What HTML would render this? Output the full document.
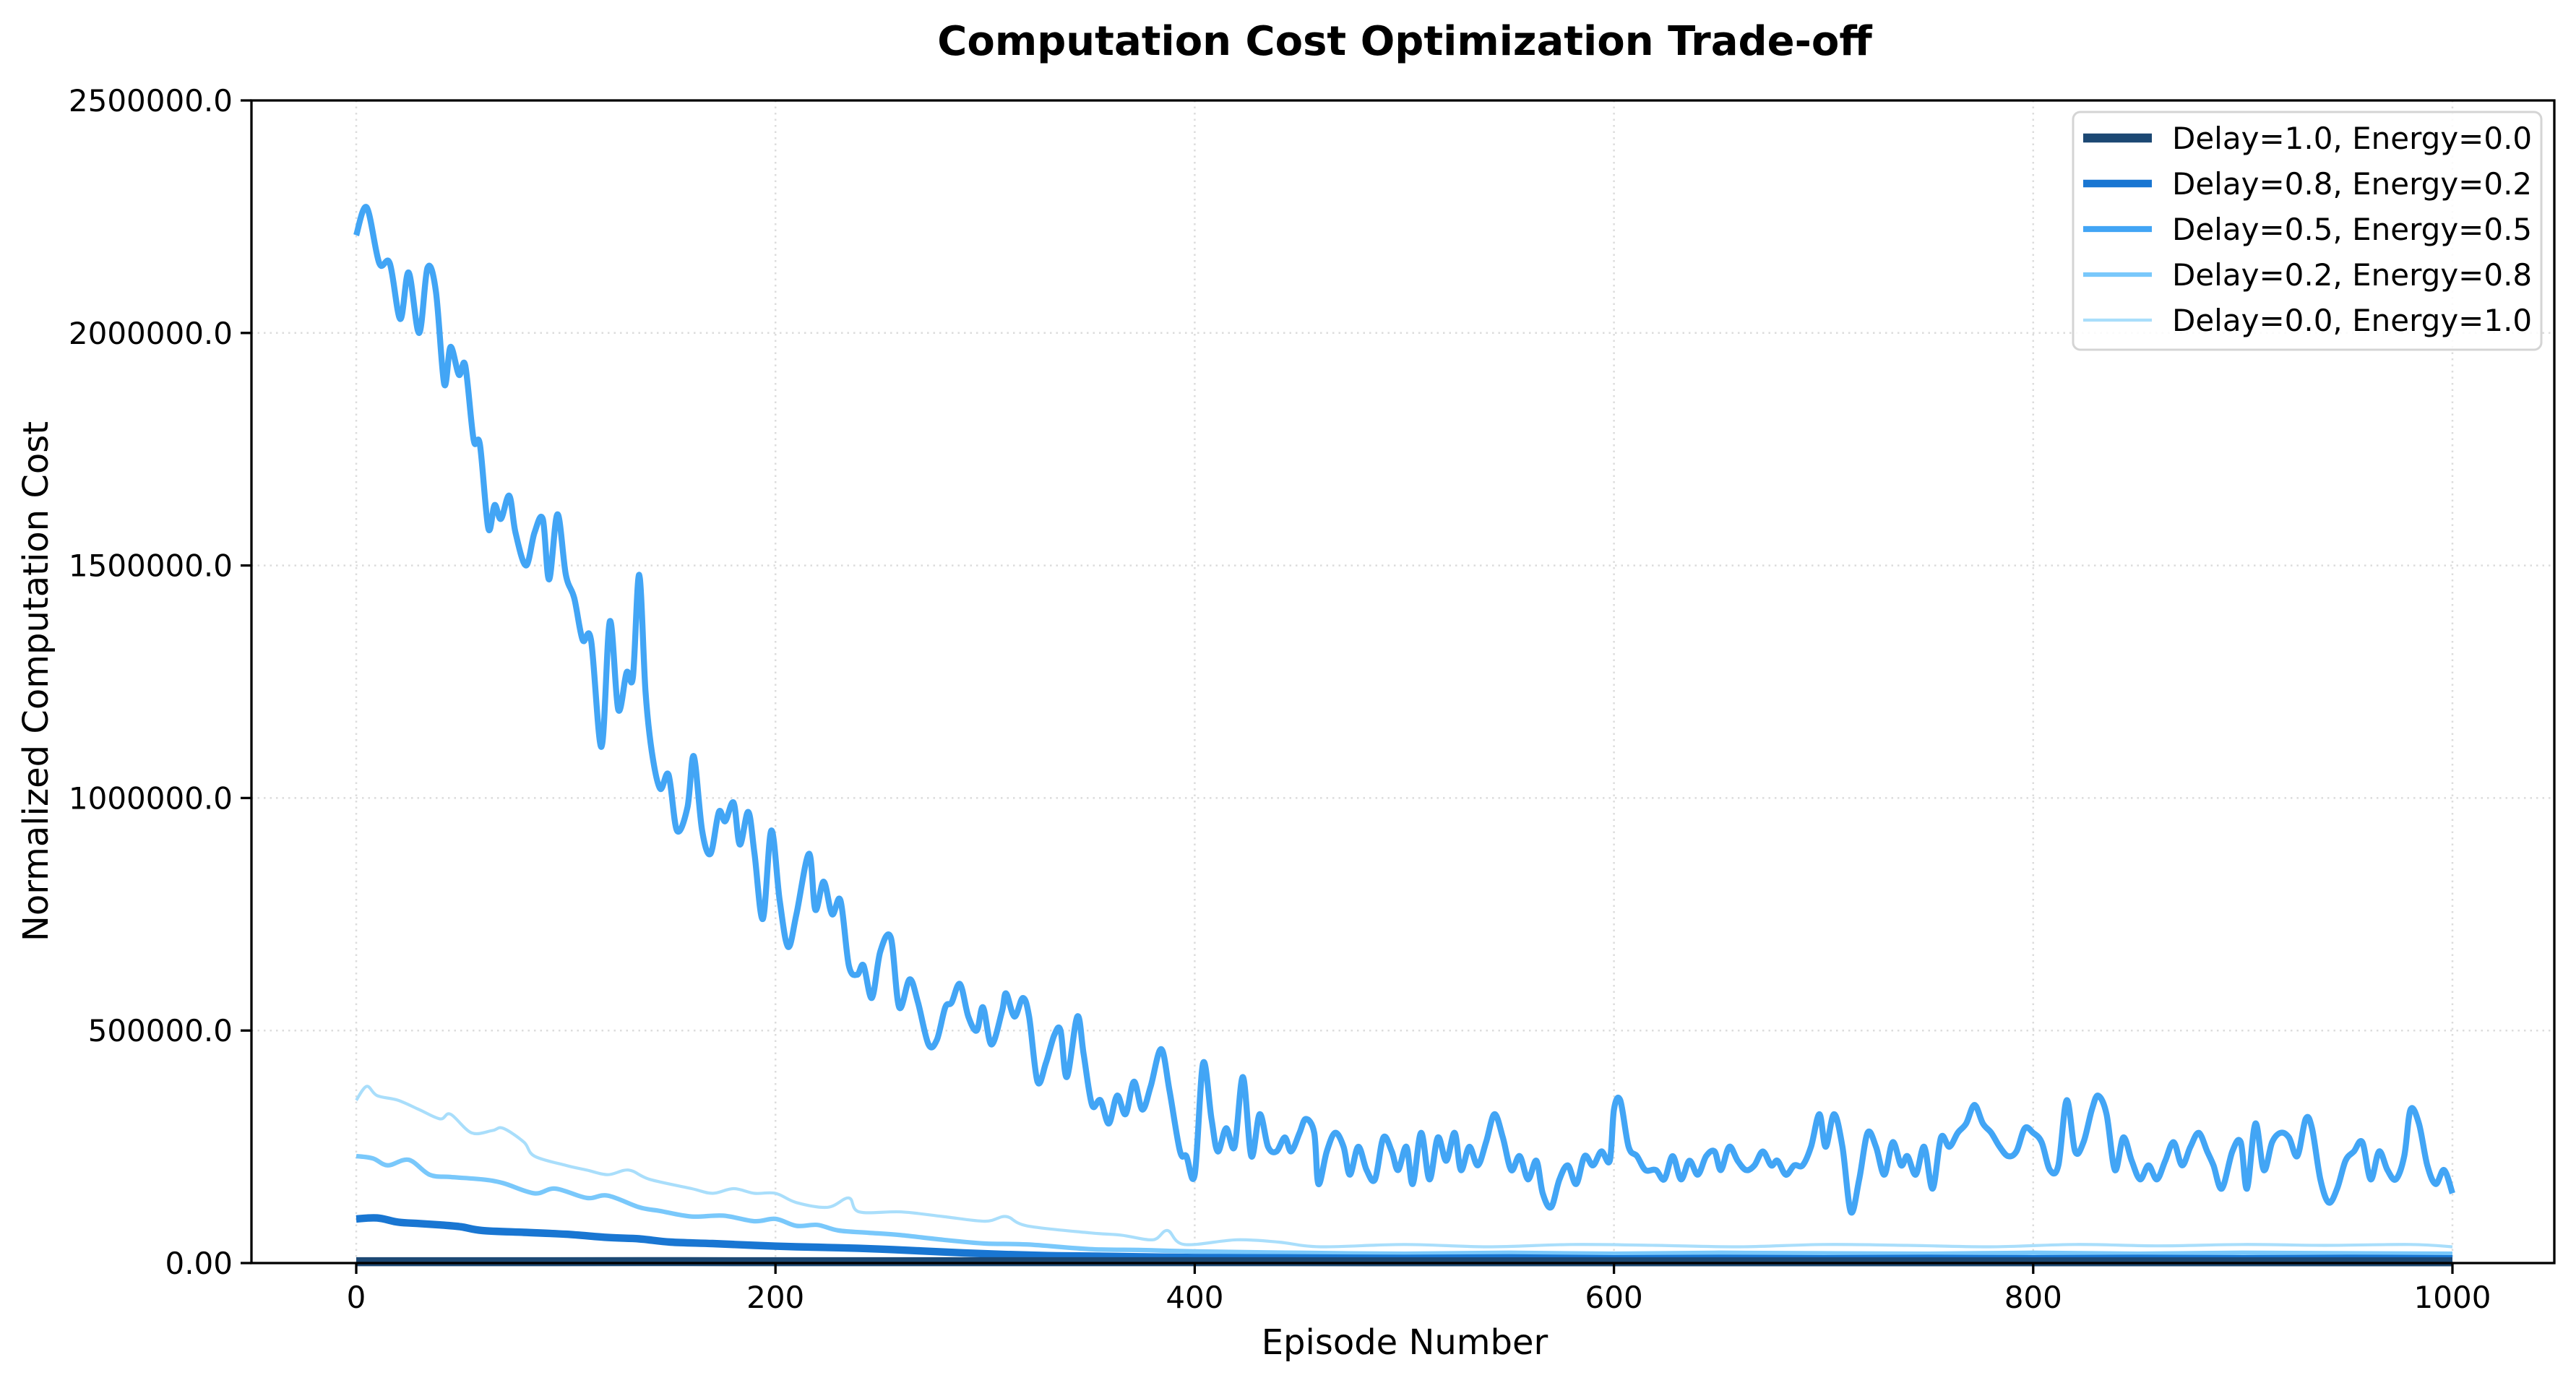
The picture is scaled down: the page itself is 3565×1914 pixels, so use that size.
<!DOCTYPE html>
<html><head><meta charset="utf-8"><style>
html,body{margin:0;padding:0;background:#fff;}
svg{display:block;font-family:"DejaVu Sans","Liberation Sans",sans-serif;}
</style></head><body>
<svg id="chart" width="3565" height="1914" viewBox="0 0 3565 1914" xmlns="http://www.w3.org/2000/svg">
<rect width="3565" height="1914" fill="#fff"/>
<text x="1944" y="76" text-anchor="middle" font-size="56" font-weight="bold">Computation Cost Optimization Trade-off</text>
<g id="grid"></g>
<g id="series"></g>
<g id="axes"></g>
<text x="1944" y="1874" text-anchor="middle" font-size="48">Episode Number</text>
<text transform="translate(66,943) rotate(-90)" text-anchor="middle" font-size="48">Normalized Computation Cost</text>
<g id="legend"></g>
</svg>
<script>
const xTicks=[0,200,400,600,800,1000];
const xTickLabels=["0","200","400","600","800","1000"];
const yTicks=[0,500000,1000000,1500000,2000000,2500000];
const yTickLabels=["0.00","500000.0","1000000.0","1500000.0","2000000.0","2500000.0"];
const seriesNames=["Delay=1.0, Energy=0.0","Delay=0.8, Energy=0.2","Delay=0.5, Energy=0.5","Delay=0.2, Energy=0.8","Delay=0.0, Energy=1.0"];
const ep1=[0,250,500,750,1000];
const val1=[3000,3000,2800,2800,2800];
const ep2=[0,10,20,30,40,50,60,80,100,120,135,150,170,190,210,230,250,270,300,330,350,400,450,500,550,600,650,700,750,800,850,900,950,1000];
const val2=[95000,97000,88000,85000,82000,78000,70000,66000,62000,55000,52000,45000,42000,38000,35000,33000,30000,26000,20000,16000,15000,12000,11000,10000,11000,9000,10000,9000,10000,9000,10000,9000,10000,9000];
const ep3=[0,5,11,16,21,25,30,34,38,42,45,49,52,56,59,63,66,69,73,76,81,85,89,92,96,100,104,108,112,117,121,125,129,132,135,138,141,145,149,153,158,161,165,169,173,176,180,183,187,190,194,198,202,206,210,216,219,223,227,231,235,239,242,246,250,255,259,264,268,273,277,281,284,288,292,296,299,303,308,310,314,318,321,325,329,333,336,339,344,347,351,355,359,363,367,371,375,379,384,388,393,396,400,404,408,411,415,419,423,427,431,435,439,443,446,450,453,457,459,463,467,471,474,478,482,486,490,494,497,501,504,508,512,516,520,524,527,531,535,539,543,547,551,555,559,563,566,570,574,578,582,586,590,594,598,600,603,607,611,615,620,624,628,632,636,640,644,648,651,655,659,663,667,671,675,678,682,686,690,694,698,701,705,709,713,717,721,725,729,733,737,740,744,748,752,756,760,764,768,772,776,780,784,788,792,796,800,804,808,812,816,820,824,828,831,835,839,843,847,851,855,859,863,867,871,875,879,883,886,890,895,899,902,906,910,914,918,922,926,930,933,937,941,945,949,953,957,961,965,969,973,977,980,984,988,992,996,1000];
const val3=[2.21,2.27,2.15,2.15,2.03,2.13,2.0,2.14,2.09,1.89,1.97,1.91,1.93,1.77,1.76,1.58,1.63,1.60,1.65,1.57,1.50,1.57,1.60,1.47,1.61,1.48,1.43,1.34,1.34,1.11,1.38,1.19,1.27,1.26,1.48,1.23,1.10,1.02,1.05,0.93,0.98,1.09,0.93,0.88,0.97,0.95,0.99,0.90,0.97,0.88,0.74,0.93,0.78,0.68,0.75,0.88,0.76,0.82,0.75,0.78,0.64,0.62,0.64,0.57,0.67,0.70,0.55,0.61,0.56,0.47,0.48,0.55,0.56,0.60,0.53,0.50,0.55,0.47,0.54,0.58,0.53,0.57,0.53,0.39,0.43,0.49,0.50,0.40,0.53,0.45,0.34,0.35,0.30,0.36,0.32,0.39,0.33,0.38,0.46,0.37,0.24,0.23,0.19,0.43,0.31,0.24,0.29,0.25,0.40,0.23,0.32,0.25,0.24,0.27,0.24,0.28,0.31,0.28,0.17,0.24,0.28,0.25,0.19,0.25,0.20,0.18,0.27,0.24,0.20,0.25,0.17,0.28,0.18,0.27,0.22,0.28,0.20,0.25,0.21,0.26,0.32,0.27,0.20,0.23,0.18,0.22,0.15,0.12,0.18,0.21,0.17,0.23,0.21,0.24,0.22,0.33,0.35,0.25,0.23,0.20,0.20,0.18,0.23,0.18,0.22,0.19,0.23,0.24,0.20,0.25,0.22,0.20,0.21,0.24,0.21,0.22,0.19,0.21,0.21,0.25,0.32,0.25,0.32,0.25,0.11,0.18,0.28,0.25,0.19,0.26,0.21,0.23,0.19,0.25,0.16,0.27,0.25,0.28,0.30,0.34,0.30,0.28,0.25,0.23,0.24,0.29,0.28,0.26,0.20,0.21,0.35,0.24,0.26,0.33,0.36,0.32,0.20,0.27,0.22,0.18,0.21,0.18,0.22,0.26,0.21,0.25,0.28,0.24,0.21,0.16,0.24,0.26,0.16,0.30,0.20,0.26,0.28,0.27,0.23,0.31,0.29,0.18,0.13,0.16,0.22,0.24,0.26,0.18,0.24,0.20,0.18,0.23,0.33,0.30,0.21,0.17,0.20,0.15].map(v=>v*1e6);
const ep4=[0,8,15,25,35,45,60,70,85,95,110,120,135,145,160,175,190,200,210,220,230,245,260,280,300,320,350,375,400,450,500,550,600,650,700,750,800,850,900,950,1000];
const val4=[230000,225000,210000,222000,190000,185000,180000,172000,150000,160000,140000,145000,120000,112000,100000,102000,90000,95000,80000,82000,70000,65000,60000,50000,42000,40000,30000,28000,25000,22000,20000,22000,20000,22000,21000,20000,22000,20000,22000,21000,20000];
const ep5=[0,5,10,20,30,40,45,55,65,70,80,85,100,110,120,130,140,160,170,180,190,200,210,225,235,240,260,280,300,310,320,350,365,380,387,395,420,440,460,500,540,580,620,660,700,740,780,820,860,900,940,980,1000];
const val5=[350000,380000,360000,350000,330000,310000,320000,280000,285000,290000,260000,230000,210000,200000,190000,200000,180000,160000,150000,160000,150000,150000,130000,120000,140000,110000,110000,100000,90000,100000,80000,65000,60000,50000,70000,40000,50000,45000,35000,40000,35000,40000,38000,35000,40000,38000,35000,40000,37000,40000,38000,40000,35000];
const epArr=[ep1,ep2,ep3,ep4,ep5];
const valArr=[val1,val2,val3,val4,val5];
const colors=["#1c4873","#1976d2","#42a5f5","#79c8fb","#a9defb"];
const widths=[12.5,10.4,8.3,6.25,4.2];
const NS="http://www.w3.org/2000/svg";
const L=348,R=3535,T=139,B=1748;
const X0=493,X1=3394;
function xs(e){return X0+(e-0)/(1000-0)*(X1-X0);}
function ys(v){return B-v/2500000*(B-T);}
const grid=document.getElementById('grid'),axes=document.getElementById('axes'),ser=document.getElementById('series'),leg=document.getElementById('legend');
function mk(tag,attrs,parent){const el=document.createElementNS(NS,tag);for(const k in attrs)el.setAttribute(k,attrs[k]);parent.appendChild(el);return el;}
function smoothPath(p){
 let d='M'+p[0][0].toFixed(1)+','+p[0][1].toFixed(1);
 for(let i=0;i<p.length-1;i++){
  const p0=p[Math.max(i-1,0)],p1=p[i],p2=p[i+1],p3=p[Math.min(i+2,p.length-1)];
  const c1x=p1[0]+(p2[0]-p0[0])/6,c1y=p1[1]+(p2[1]-p0[1])/6;
  const c2x=p2[0]-(p3[0]-p1[0])/6,c2y=p2[1]-(p3[1]-p1[1])/6;
  d+=' C'+c1x.toFixed(1)+','+c1y.toFixed(1)+' '+c2x.toFixed(1)+','+c2y.toFixed(1)+' '+p2[0].toFixed(1)+','+p2[1].toFixed(1);
 }
 return d;
}
xTicks.forEach((t,i)=>{
 const g=mk('line',{x1:xs(t),x2:xs(t),y1:T,y2:B,stroke:'#dcdcdc','stroke-width':2.5,'stroke-dasharray':'2.5 6'},grid);
 
 
 const tk=mk('line',{x1:xs(t),x2:xs(t),y1:B,y2:B+15,stroke:'#000','stroke-width':3.3},axes);
 
 
 const tx=mk('text',{x:xs(t),y:B+62,'text-anchor':'middle','font-size':42},axes);
 
 
 tx.textContent=xTickLabels[i];
});
yTicks.forEach((t,i)=>{
 const g=mk('line',{x1:L,x2:R,y1:ys(t),y2:ys(t),stroke:'#dcdcdc','stroke-width':2.5,'stroke-dasharray':'2.5 6'},grid);
 
 
 const tk=mk('line',{x1:L-15,x2:L,y1:ys(t),y2:ys(t),stroke:'#000','stroke-width':3.3},axes);
 
 
 const tx=mk('text',{x:L-26,y:ys(t)+15,'text-anchor':'end','font-size':42},axes);
 
 
 tx.textContent=yTickLabels[i];
});
const frame=mk('rect',{x:L,y:T,width:R-L,height:B-T,fill:'none',stroke:'#000','stroke-width':3.3},axes);


for(let s=4;s>=0;s--){
 const pts=epArr[s].map((e,i)=>[xs(e),ys(valArr[s][i])]);
 const pl=mk('path',{d:smoothPath(pts),fill:'none',stroke:colors[s],'stroke-width':widths[s],'stroke-linejoin':'round','stroke-linecap':'butt'},ser);
 
 
}
const box=mk('rect',{x:2869,y:155,width:648,height:329,rx:10,fill:'rgba(255,255,255,0.85)',stroke:'#d4d4d4','stroke-width':3},leg);


const ly=[191,254,317,380,443];
seriesNames.forEach((n,i)=>{
 const ln=mk('line',{x1:2883,x2:2978,y1:ly[i],y2:ly[i],stroke:colors[i],'stroke-width':widths[i]},leg);
 
 
 const tx=mk('text',{x:3006,y:ly[i]+15,'font-size':42},leg);
 
 
 tx.textContent=n;
});
</script>
</body></html>
